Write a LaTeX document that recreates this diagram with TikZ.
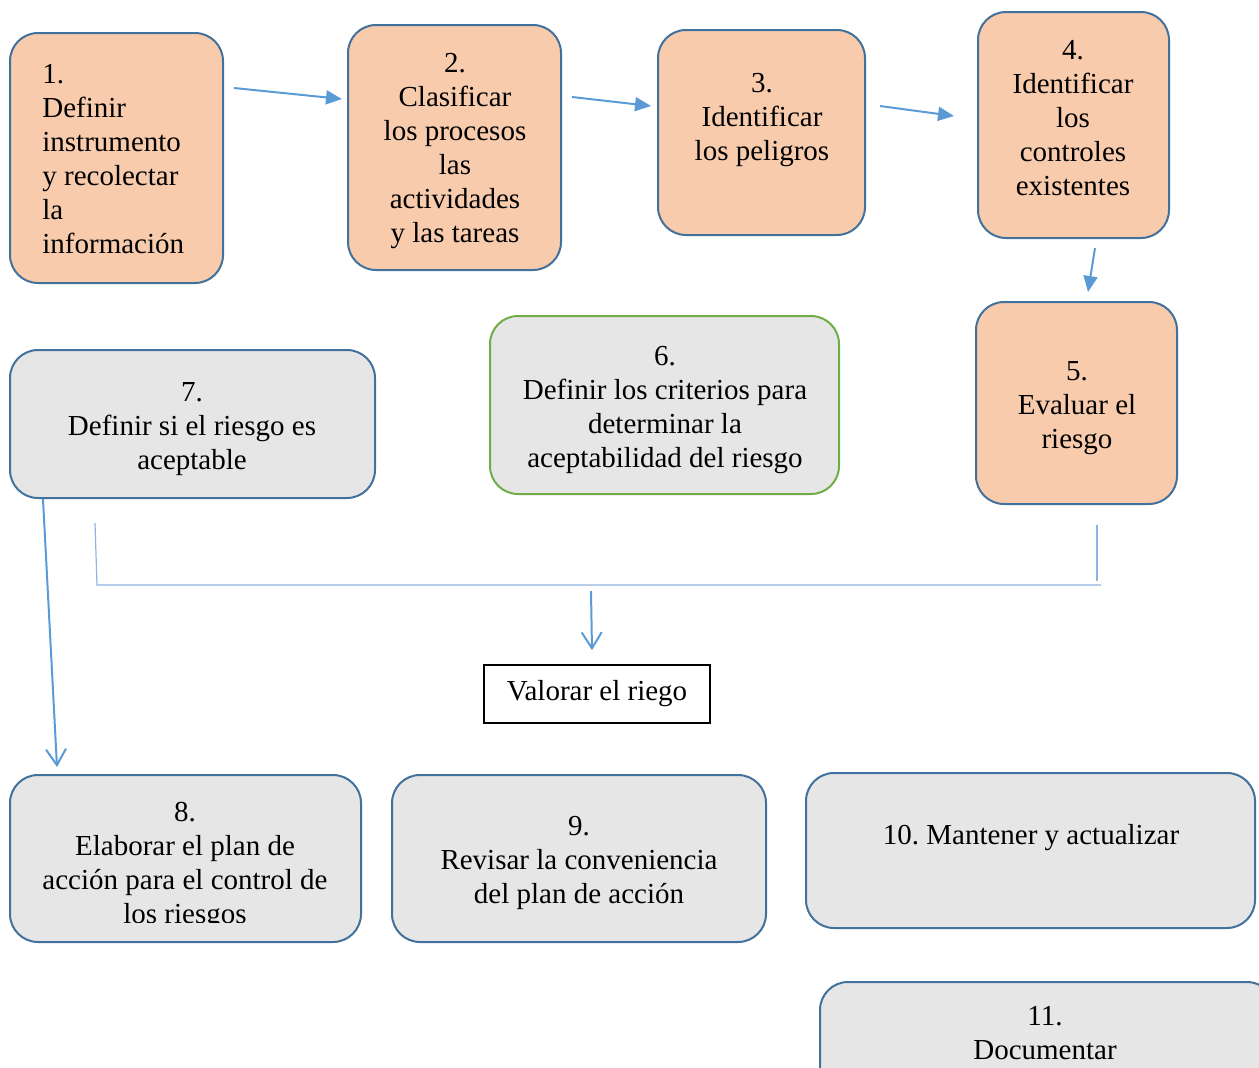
\documentclass[tikz,border=0pt]{standalone}
\usepackage{fontspec}
\setmainfont{Liberation Serif}
\usetikzlibrary{arrows.meta,calc}
\definecolor{peach}{HTML}{F8CBAD}
\definecolor{bord}{HTML}{41719C}
\definecolor{grayf}{HTML}{E7E6E6}
\definecolor{greenb}{HTML}{70AD47}
\definecolor{arr}{HTML}{5B9BD5}
\definecolor{thinl}{HTML}{8DB4E2}
\frenchspacing
\begin{document}
\begin{tikzpicture}[x=0.5pt,y=-0.5pt,
  pbox/.style={draw=bord,line width=1pt,fill=peach,rounded corners=14pt,inner sep=0pt},
  gbox/.style={draw=bord,line width=1pt,fill=grayf,rounded corners=14pt,inner sep=0pt},
  txt/.style={align=center,inner sep=0pt,font=\fontsize{14.5}{17}\selectfont},
  tarr/.style={draw=arr,line width=1pt,-{Triangle[length=8pt,width=7pt]}},
  oarr/.style={draw=arr,line width=1pt,-{Straight Barb[length=8pt,width=10pt]}},
  thin/.style={draw=thinl,line width=0.6pt}]
\useasboundingbox (0,0) rectangle (1259,1067);
\clip (0,0) rectangle (1259,1067);
% boxes
\node[pbox,minimum width=106.5pt,minimum height=125pt] (b1) at (116.5,158) {};
\node[pbox,minimum width=106.5pt,minimum height=122.5pt] (b2) at (454.5,147.5) {};
\node[pbox,minimum width=103.5pt,minimum height=102.5pt] (b3) at (761.5,132.5) {};
\node[pbox,minimum width=95.5pt,minimum height=113pt] (b4) at (1073.5,125) {};
\node[pbox,minimum width=100.5pt,minimum height=101pt] (b5) at (1076.5,403) {};
\node[draw=greenb,line width=1pt,fill=grayf,rounded corners=14pt,minimum width=174.5pt,minimum height=89pt] (b6) at (664.5,405) {};
\node[gbox,minimum width=182.5pt,minimum height=74pt] (b7) at (192.5,424) {};
\node[draw=black,line width=0.8pt,fill=white,minimum width=113pt,minimum height=29pt,inner sep=0pt,txt] (bv) at (597,694) {Valorar el riego};
\node[gbox,minimum width=175.5pt,minimum height=83.5pt] (b8) at (185.5,858.5) {};
\node[gbox,minimum width=187pt,minimum height=83.5pt] (b9) at (579,858.5) {};
\node[gbox,minimum width=224.5pt,minimum height=77.5pt] (b10) at (1030.5,850.5) {};
\node[gbox,minimum width=227.5pt,minimum height=59pt] (b11) at (1047.5,1041) {};
% texts
\node[txt,align=left,anchor=west] (t1) at (42,159) {1.\\Definir\\instrumento\\y recolectar\\la\\información};
\node[txt] (t2) at (455,151) {2.\\Clasificar\\los procesos\\las\\actividades\\y las tareas};
\node[txt] (t3) at (762,120) {3.\\Identificar\\los peligros};
\node[txt] (t4) at (1073,118) {4.\\Identificar\\los\\controles\\existentes};
\node[txt] (t5) at (1077,408) {5.\\Evaluar el\\riesgo};
\node[txt] (t6) at (665,410) {6.\\Definir los criterios para\\determinar la\\aceptabilidad del riesgo};
\node[txt] (t7) at (192,429) {7.\\Definir si el riesgo es\\aceptable};
\begin{scope}
\clip (0,760) rectangle (400,922);
\node[txt] (t8) at (185,866) {8.\\Elaborar el plan de\\acción para el control de\\los riesgos};
\end{scope}
\node[txt] (t9) at (579,863) {9.\\Revisar la conveniencia\\del plan de acción};
\node[txt] (t10) at (1031,838) {10. Mantener y actualizar};
\node[txt] (t11) at (1045,1033) {11.\\Documentar};
% connectors
\draw[tarr] ($(b1.east)+(10,-70)$) -- ($(b2.west)+(-5,-48.5)$);
\draw[tarr] ($(b2.east)+(10,-50.5)$) -- ($(b3.west)+(-6,-26.5)$);
\draw[tarr] ($(b3.east)+(14,-26.5)$) -- ($(b4.west)+(-23,-9)$);
\draw[tarr] ($(b4.south)+(21.5,9)$) -- ($(b5.north)+(11.5,-9)$);
\draw[oarr] ($(b7.south)+(-149.5,0)$) -- ($(b8.north)+(-128.5,-7)$);
\draw[thin] ($(b7.south)+(-97.5,24)$) -- ($(b7.south)+(-95.5,86)$) -- ($(b5.south)+(24.5,80)$);
\draw[thin] ($(b5.south)+(20.5,20)$) -- ($(b5.south)+(20.5,76)$);
\draw[oarr] ($(bv.north)+(-6,-73)$) -- ($(bv.north)+(-5,-14)$);
\end{tikzpicture}
\end{document}
